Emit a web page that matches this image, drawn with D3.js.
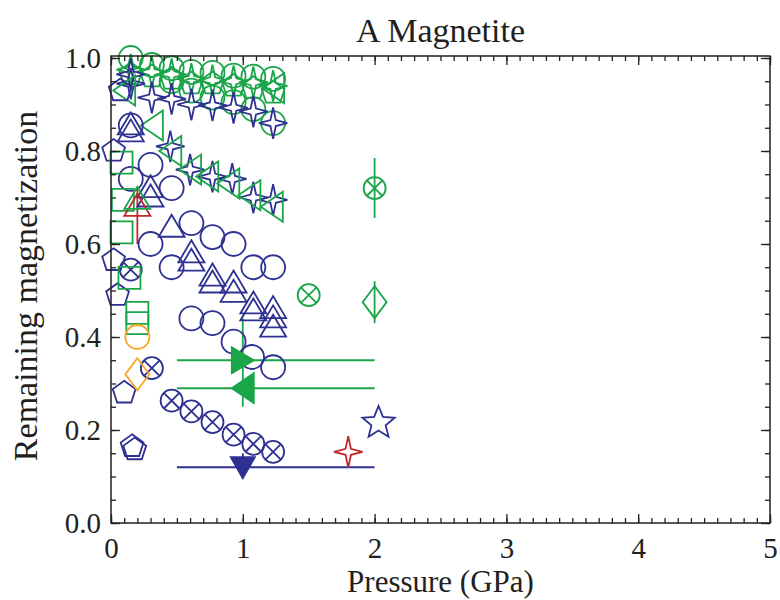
<!DOCTYPE html>
<html>
<head>
<meta charset="utf-8">
<script src="https://cdn.jsdelivr.net/npm/d3@7"></script>
<style>
  body { margin: 0; background: #fff; }
  text { font-family: "Liberation Serif", "Times New Roman", serif; fill: #231f20; }
</style>
</head>
<body>
<div id="chart"></div>
<script>
// ---- data: [pressure GPa, remaining magnetization] ----
var gCircTop   = [[0.15,1.0],[0.31,0.985],[0.46,0.978],[0.61,0.97],[0.77,0.968],[0.93,0.962],[1.08,0.96],[1.23,0.955]];
var gCircLow   = [[0.46,0.95],[0.61,0.93],[0.77,0.915],[0.93,0.905],[1.08,0.89],[1.23,0.86]];
var gStar4     = [[0.15,0.975],[0.31,0.97],[0.46,0.965],[0.61,0.955],[0.77,0.952],[0.93,0.95],[1.08,0.948],[1.23,0.94]];
var gPent      = [[0.15,0.965],[0.31,0.96],[0.46,0.955],[0.61,0.945],[0.77,0.945],[0.93,0.94],[1.08,0.935],[1.23,0.925]];
var gTriLeftUp = [[0.1,0.93],[0.31,0.855],[1.23,0.935]];
var bStar4Up   = [[0.15,0.965],[0.15,0.945],[0.31,0.915],[0.46,0.912],[0.61,0.9],[0.77,0.898],[0.93,0.893],[1.08,0.885],[1.23,0.86]];
var bStar4Low  = [[0.45,0.81],[0.6,0.76],[0.77,0.745],[0.92,0.74],[1.08,0.7],[1.23,0.695]];
var gTriLeftLo = [[0.45,0.8],[0.6,0.76],[0.73,0.745],[0.89,0.73],[1.05,0.705],[1.22,0.68]];
var bTri1      = [[0.15,0.855],[0.3,0.72],[0.46,0.635],[0.61,0.58],[0.77,0.53],[0.93,0.515],[1.08,0.47],[1.23,0.46]];
var bTri2      = [[0.15,0.84],[0.3,0.7],[0.61,0.562],[0.77,0.515],[0.93,0.495],[1.08,0.455],[1.23,0.44]];
var bTri3      = [[1.23,0.42]];
var bCirc1     = [[0.15,0.855],[0.15,0.74],[0.3,0.77],[0.46,0.72],[0.61,0.645],[0.77,0.615],[0.93,0.6]];
var bCirc2     = [[0.3,0.6],[0.46,0.55],[1.08,0.55],[1.23,0.55]];
var bCirc3     = [[0.61,0.44],[0.77,0.43],[0.93,0.39],[1.07,0.357],[1.23,0.335]];
var bCircX     = [[0.15,0.545],[0.31,0.333],[0.46,0.263],[0.61,0.24],[0.77,0.217],[0.93,0.19],[1.08,0.17],[1.23,0.153]];
var bPent      = [[0.07,0.93],[0.02,0.8],[0.02,0.565],[0.05,0.49],[0.1,0.28],[0.16,0.165],[0.18,0.158]];
var gSquare    = [[0.08,0.775],[0.09,0.695],[0.08,0.625],[0.14,0.527],[0.2,0.452],[0.2,0.43]];
var rTriUp     = [[0.2,0.68]];
var gTriUp     = [[0.2,0.695]];
var oCirc      = [[0.2,0.4]];
var oDiam      = [[0.2,0.32]];
var gArrowR    = [[1.0,0.35]];
var gArrowL    = [[1.0,0.29]];
var bArrowD    = [[1.0,0.12]];
var gCircX     = [[2.0,0.72],[1.5,0.49]];
var gDiam      = [[2.0,0.475]];
var bStar5     = [[2.03,0.215]];
var rStar4     = [[1.8,0.153]];
// ranges: [x from, x to, y]
var gRanges    = [[0.5,2.0,0.35],[0.5,2.0,0.29]];
var bRanges    = [[0.5,2.0,0.12]];
// vertical error bars: [x, y low, y high]
var gErrBars   = [[2.0,0.656,0.785],[2.0,0.43,0.52],[1.0,0.25,0.44]];
var bErrBars   = [[1.0,0.12,0.15]];
var rErrBars   = [[0.2,0.60,0.72]];

var xTicks = [0, 1, 2, 3, 4, 5];
var yTicks = [0, 0.2, 0.4, 0.6, 0.8, 1.0];

// colours
var BLUE = '#2e3192', GREEN = '#1aa549', RED = '#c1272d', ORANGE = '#f7a823';

// frame
var W = 780, H = 600;
var plotLeft = 111, plotRight = 770, plotTop = 56, plotBottom = 523;

var svg = d3.select('#chart').append('svg')
    .attr('width', W)
    .attr('height', H);

var x = d3.scaleLinear().domain([0, 5]).range([plotLeft, plotRight]);
var y = d3.scaleLinear().domain([0, 1]).range([plotBottom, 58]);

// symbol shapes, centred on 0,0
function poly(pts) { return 'M' + pts.map(function(p) { return p[0].toFixed(2) + ',' + p[1].toFixed(2); }).join('L') + 'Z'; }
function regular(n, r, rot) {
  var pts = [];
  for (var i = 0; i < n; i++) {
    var a = rot + i * 2 * Math.PI / n;
    pts.push([r * Math.sin(a), -r * Math.cos(a)]);
  }
  return poly(pts);
}
function star(n, ro, ri, sx, sy) {
  var pts = [];
  for (var i = 0; i < 2 * n; i++) {
    var a = i * Math.PI / n, r = (i % 2) ? ri : ro;
    pts.push([r * Math.sin(a) * (sx || 1), -r * Math.cos(a) * (sy || 1)]);
  }
  return poly(pts);
}
function circ(r) { return 'M' + (-r) + ',0A' + r + ',' + r + ' 0 1,0 ' + r + ',0A' + r + ',' + r + ' 0 1,0 ' + (-r) + ',0Z'; }

var shapes = {
  circle:   circ(12),
  circleX:  circ(11) + 'M-7.8,-7.8L7.8,7.8M-7.8,7.8L7.8,-7.8',
  triUp:    'M0,-13L13,9L-13,9Z',
  triLeft:  'M-11,0L11,-15L11,15Z',
  triRight: 'M11,0L-11,-13L-11,13Z',
  triDown:  'M0,11L-12,-10L12,-10Z',
  square:   'M-11,-11L11,-11L11,11L-11,11Z',
  diamond:  'M0,-16L12,0L0,16L-12,0Z',
  pentagon: regular(5, 12, 0),
  star4:    star(4, 15, 4, 0.95, 1.05),
  star5:    star(5, 17, 7.5)
};

var series = [
  { data: gCircTop,   shape: 'circle',   color: GREEN },
  { data: gCircLow,   shape: 'circle',   color: GREEN },
  { data: gPent,      shape: 'pentagon', color: GREEN },
  { data: gStar4,     shape: 'star4',    color: GREEN },
  { data: bStar4Up,   shape: 'star4',    color: BLUE },
  { data: gTriLeftUp, shape: 'triLeft',  color: GREEN },
  { data: bStar4Low,  shape: 'star4',    color: BLUE },
  { data: gTriLeftLo, shape: 'triLeft',  color: GREEN },
  { data: bCirc1,     shape: 'circle',   color: BLUE },
  { data: bCirc2,     shape: 'circle',   color: BLUE },
  { data: bCirc3,     shape: 'circle',   color: BLUE },
  { data: bTri1,      shape: 'triUp',    color: BLUE },
  { data: bTri2,      shape: 'triUp',    color: BLUE },
  { data: bTri3,      shape: 'triUp',    color: BLUE },
  { data: bCircX,     shape: 'circleX',  color: BLUE },
  { data: bPent,      shape: 'pentagon', color: BLUE },
  { data: gSquare,    shape: 'square',   color: GREEN },
  { data: rTriUp,     shape: 'triUp',    color: RED },
  { data: gTriUp,     shape: 'triUp',    color: GREEN },
  { data: oCirc,      shape: 'circle',   color: ORANGE },
  { data: oDiam,      shape: 'diamond',  color: ORANGE },
  { data: gCircX,     shape: 'circleX',  color: GREEN },
  { data: gDiam,      shape: 'diamond',  color: GREEN },
  { data: bStar5,     shape: 'star5',    color: BLUE },
  { data: rStar4,     shape: 'star4',    color: RED },
  { data: gArrowR,    shape: 'triRight', color: GREEN, fill: true },
  { data: gArrowL,    shape: 'triLeft',  color: GREEN, fill: true },
  { data: bArrowD,    shape: 'triDown',  color: BLUE,  fill: true }
];

var g = svg.append('g');

// range lines and error bars
[[gRanges, GREEN], [bRanges, BLUE]].forEach(function(s) {
  g.selectAll(null).data(s[0]).enter().append('line')
    .attr('x1', function(d) { return x(d[0]); })
    .attr('x2', function(d) { return x(d[1]); })
    .attr('y1', function(d) { return y(d[2]); })
    .attr('y2', function(d) { return y(d[2]); })
    .attr('stroke', s[1])
    .attr('stroke-width', 2);
});
[[gErrBars, GREEN], [bErrBars, BLUE], [rErrBars, RED]].forEach(function(s) {
  g.selectAll(null).data(s[0]).enter().append('line')
    .attr('x1', function(d) { return x(d[0]); })
    .attr('x2', function(d) { return x(d[0]); })
    .attr('y1', function(d) { return y(d[1]); })
    .attr('y2', function(d) { return y(d[2]); })
    .attr('stroke', s[1])
    .attr('stroke-width', 1.8);
});

// symbols
series.forEach(function(s) {
  g.selectAll(null).data(s.data).enter().append('path')
    .attr('d', shapes[s.shape])
    .attr('transform', function(d) { return 'translate(' + x(d[0]) + ',' + y(d[1]) + ')'; })
    .attr('fill', s.fill ? s.color : 'none')
    .attr('stroke', s.color)
    .attr('stroke-width', 1.8)
    .attr('stroke-linejoin', 'miter');
});

// axes: ticks point inward on all four sides
function styleAxis(sel) {
  sel.select('.domain').remove();
  sel.selectAll('line').attr('stroke', '#231f20').attr('stroke-width', 1.3);
  sel.selectAll('text')
    .style('font-size', '29px')
    .style('font-family', '"Liberation Serif", serif')
    .attr('fill', '#231f20');
}
var xMinor = d3.range(0, 5.001, 0.1);
var yMinor = d3.range(0, 1.001, 0.05);

svg.append('g').attr('transform', 'translate(0,' + plotBottom + ')')
  .call(d3.axisBottom(x).tickValues(xMinor).tickSize(-5).tickFormat('')).call(styleAxis);
svg.append('g').attr('transform', 'translate(0,' + plotBottom + ')')
  .call(d3.axisBottom(x).tickValues(xTicks).tickSize(-9).tickPadding(14).tickFormat(d3.format('d'))).call(styleAxis);
svg.append('g').attr('transform', 'translate(0,' + plotTop + ')')
  .call(d3.axisTop(x).tickValues(xMinor).tickSize(-5).tickFormat('')).call(styleAxis);
svg.append('g').attr('transform', 'translate(0,' + plotTop + ')')
  .call(d3.axisTop(x).tickValues(xTicks).tickSize(-9).tickFormat('')).call(styleAxis);

svg.append('g').attr('transform', 'translate(' + plotLeft + ',0)')
  .call(d3.axisLeft(y).tickValues(yMinor).tickSize(-5).tickFormat('')).call(styleAxis);
svg.append('g').attr('transform', 'translate(' + plotLeft + ',0)')
  .call(d3.axisLeft(y).tickValues(yTicks).tickSize(-9).tickPadding(10).tickFormat(d3.format('.1f'))).call(styleAxis);
svg.append('g').attr('transform', 'translate(' + plotRight + ',0)')
  .call(d3.axisRight(y).tickValues(yMinor).tickSize(-5).tickFormat('')).call(styleAxis);
svg.append('g').attr('transform', 'translate(' + plotRight + ',0)')
  .call(d3.axisRight(y).tickValues(yTicks).tickSize(-9).tickFormat('')).call(styleAxis);

// frame
svg.append('rect')
  .attr('x', plotLeft).attr('y', plotTop)
  .attr('width', plotRight - plotLeft).attr('height', plotBottom - plotTop)
  .attr('fill', 'none')
  .attr('stroke', '#231f20')
  .attr('stroke-width', 1.5);

// titles
svg.append('text')
  .attr('x', (plotLeft + plotRight) / 2).attr('y', 42)
  .attr('text-anchor', 'middle')
  .style('font-size', '34px')
  .text('A Magnetite');

svg.append('text')
  .attr('x', (plotLeft + plotRight) / 2).attr('y', 592)
  .attr('text-anchor', 'middle')
  .style('font-size', '31px')
  .text('Pressure (GPa)');

svg.append('text')
  .attr('transform', 'translate(37,286) rotate(-90)')
  .attr('text-anchor', 'middle')
  .style('font-size', '34px')
  .text('Remaining magnetization');
</script>
</body>
</html>
